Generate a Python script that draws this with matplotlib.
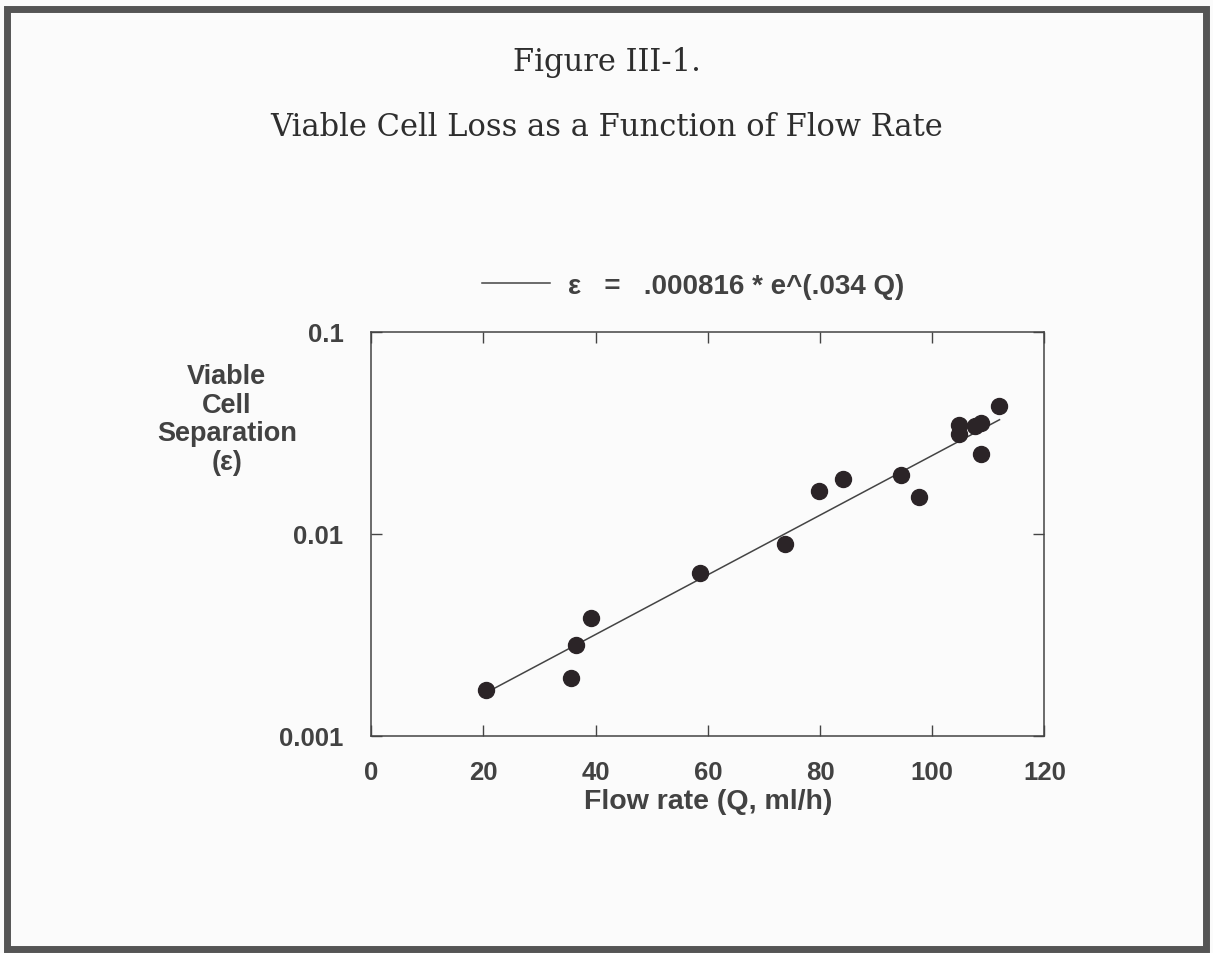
import numpy as np
import matplotlib
matplotlib.use("Agg")
import matplotlib.pyplot as plt
from matplotlib.patches import Rectangle

# flow rate (ml/h) and viable cell separation
flow = [20.5, 35.7, 36.5, 39.1, 58.6, 73.7, 79.8, 84.1, 94.5, 97.6,
        104.7, 104.7, 107.7, 108.7, 108.7, 111.9]
eps = [0.00169, 0.00194, 0.00283, 0.00384, 0.00644, 0.00895, 0.0163, 0.0187,
       0.0195, 0.0152, 0.0348, 0.0314, 0.0343, 0.0356, 0.0249, 0.0430]

# fit given in the legend
fit_a = 0.000816
fit_b = 0.034
fit_range = [20.5, 112]

xticks = [0, 20, 40, 60, 80, 100, 120]
yticks = [0.001, 0.01, 0.1]
ytick_labels = ["0.001", "0.01", "0.1"]

plt.rcParams['font.family'] = ['Liberation Sans', 'DejaVu Sans']
txt = "#424242"

fig = plt.figure(figsize=(12.13, 9.54), dpi=100)
fig.patch.set_facecolor("#fbfbfb")

# thick border round the page
fig.patches.append(Rectangle((0.006, 0.004), 0.988, 0.985, transform=fig.transFigure,
                             fill=False, edgecolor="#555555", linewidth=5))

fig.text(0.5, 0.935, "Figure III-1.", ha="center", va="center",
         fontsize=22, family="DejaVu Serif", color="#2e2e2e")
fig.text(0.5, 0.866, "Viable Cell Loss as a Function of Flow Rate", ha="center", va="center",
         fontsize=22, family="DejaVu Serif", color="#2e2e2e")

ax = fig.add_axes([0.306, 0.2275, 0.555, 0.4235])
ax.set_facecolor("#fbfbfb")

q = np.linspace(fit_range[0], fit_range[1], 50)
ax.plot(q, fit_a * np.exp(fit_b * q), color="#444444", linewidth=1.1,
        label="ε   =   .000816 * e^(.034 Q)")
ax.plot(flow, eps, "o", color="#2b2427", markersize=11.5, zorder=3)

ax.set_yscale("log")
ax.set_xlim(0, 120)
ax.set_ylim(0.001, 0.1)
ax.set_xticks(xticks)
ax.set_yticks(yticks)
ax.set_yticklabels(ytick_labels)
ax.minorticks_off()
ax.tick_params(direction="in", length=8, width=1, top=True, right=True,
               labelsize=18.5, colors="#444444", labelcolor=txt)
ax.tick_params(axis="x", pad=17)
ax.tick_params(axis="y", pad=20)
for lab in ax.get_xticklabels() + ax.get_yticklabels():
    lab.set_fontweight("bold")
for s in ax.spines.values():
    s.set_color("#444444")
    s.set_linewidth(1.1)

ax.set_xlabel("Flow rate (Q, ml/h)", fontsize=20.5, color=txt, labelpad=3,
              fontweight="bold")
fig.text(0.187, 0.5597, "Viable\nCell\nSeparation\n(ε)", ha="center", va="center",
         fontsize=19.5, color=txt, linespacing=1.12, fontweight="bold")

ax.legend(loc="center left", bbox_to_anchor=(482 / 1213, 1 - 287 / 954),
          bbox_transform=fig.transFigure, borderaxespad=0, borderpad=0,
          frameon=False, handlelength=2.45, handletextpad=0.65,
          labelcolor=txt, prop={"weight": "bold", "size": 20})

fig.savefig("out.png", dpi=100, facecolor=fig.get_facecolor())
